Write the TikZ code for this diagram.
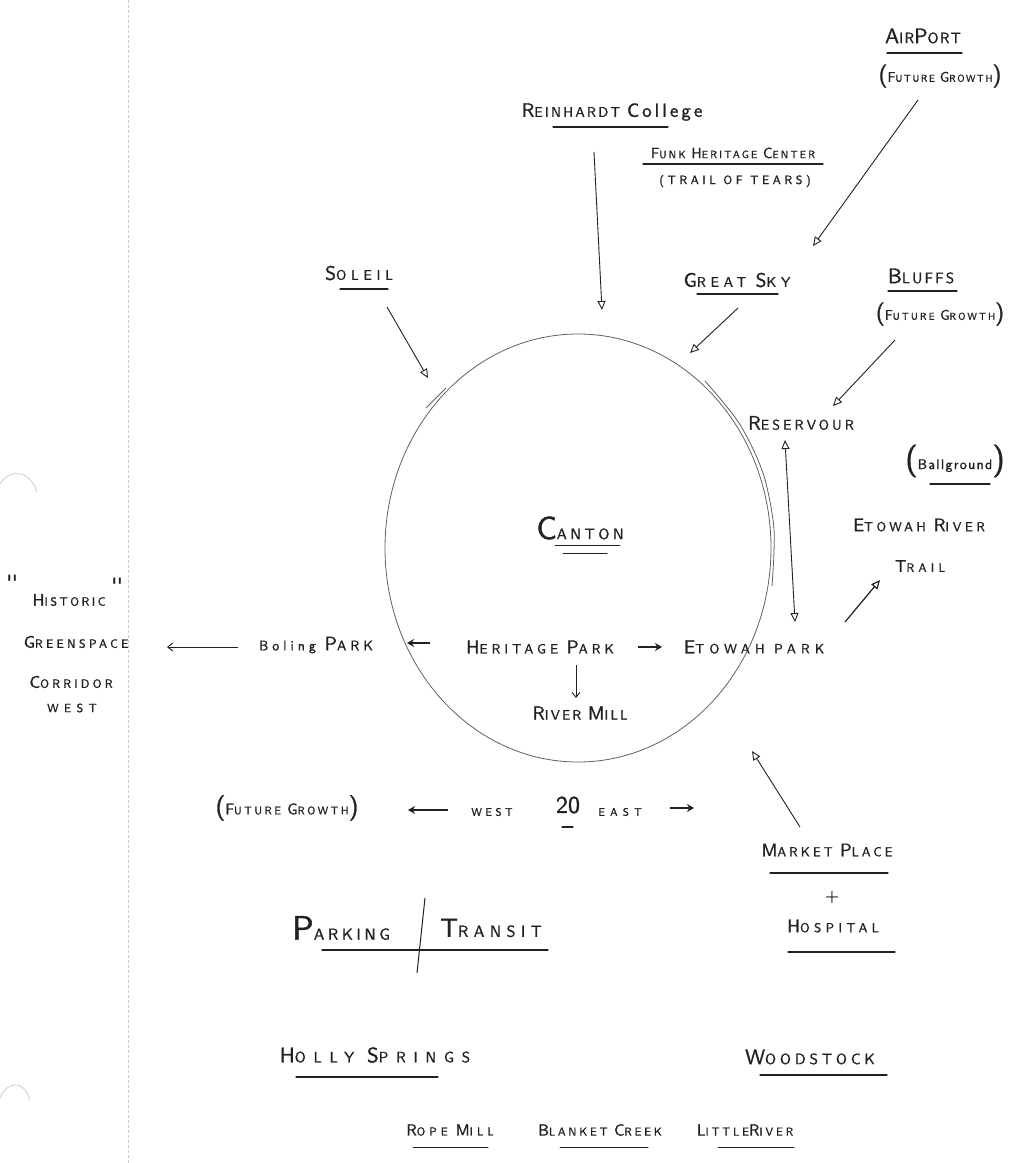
\documentclass[tikz,border=0pt]{standalone}
\usepackage{fontspec}
\usetikzlibrary{arrows.meta}
\definecolor{ink}{gray}{0.13}
\definecolor{pencil}{gray}{0.38}
\definecolor{faint}{gray}{0.80}
\newfontfamily\handfont[FakeBold=1.2]{lmsans10-regular.otf}
\newcommand\sk[2]{{\fontsize{1.4em}{1.4em}\selectfont #1}\MakeUppercase{#2}}
\newcommand\bigp[1]{{\fontsize{2.3em}{2.3em}\selectfont #1}}
\newcommand\fs[2]{{\fontsize{#1}{#1}\selectfont #2}}
\begin{document}
\begin{tikzpicture}[x=1pt,y=-1pt,
  lab/.style 2 args={inner sep=0pt, text=ink, font=\handfont\addfontfeature{LetterSpace=#2}\fontsize{#1}{#1}\selectfont},
  ul/.style={draw=ink, line width=1.3pt, line cap=round},
  oarr/.style={draw=ink, line width=0.9pt, -{Triangle[open,length=9pt,width=8pt]}},
  farr/.style={draw=ink, line width=1.8pt, -{Stealth[length=7pt,width=8pt]}},
  barr/.style={draw=ink, line width=0.9pt, -{Straight Barb[length=5pt,width=8pt]}},
  circ/.style={draw=pencil, line width=0.8pt}]
\fill[white] (0,0) rectangle (1013,1163);
\useasboundingbox (0,0) rectangle (1013,1163);

% margin line and stray arcs
\draw[faint, line width=0.7pt, dash pattern=on 3pt off 2pt] (128,0) -- (128,1163);
\draw[faint, line width=0.8pt] (0,484) .. controls (10,468) and (30,470) .. (37,492);
\draw[faint, line width=0.8pt] (0,1098) .. controls (8,1080) and (24,1080) .. (30,1100);

% Canton circle
\draw[circ] (578,548) ellipse [x radius=193, y radius=214];
\draw[circ] plot[smooth] coordinates {(705,381) (739,423) (763,473) (774,529) (772,586)};
\draw[circ] (426,408) -- (446,388);

% labels
\node[lab={15}{8}] (airport) at (923,36) {\sk{A}{ir}\sk{P}{ort}};
\draw[ul] (887,53) -- (962,53);
\node[lab={10}{16}] (fgA) at (940,76) {\bigp{(}\sk{F}{uture} \sk{G}{rowth}\bigp{)}};

\node[lab={14}{16}] (reinhardt) at (612,112) {\sk{R}{einhardt} \fs{19}{College}};
\draw[ul] (553,127) -- (668,127);

\node[lab={10.5}{21}] (funk) at (733,153) {\sk{F}{unk} \sk{H}{eritage} \sk{C}{enter}};
\draw[ul] (643,164) -- (823,164);
\node[lab={12}{30}] (tears) at (735,181) {(TRAIL OF TEARS)};

\node[lab={14}{34}] (soleil) at (359,273) {\sk{S}{oleil}};
\draw[ul] (340,289) -- (388,289);

\node[lab={14}{34}] (greatsky) at (737,280) {\sk{G}{reat} \sk{S}{ky}};
\draw[ul] (697,294) -- (778,294);

\node[lab={15}{14}] (bluffs) at (921,276) {\sk{B}{luffs}};
\draw[ul] (888,291) -- (957,291);
\node[lab={10}{22}] (fgB) at (940,314) {\bigp{(}\sk{F}{uture} \sk{G}{rowth}\bigp{)}};

\node[lab={14}{22}] (reservour) at (801,423) {\sk{R}{eservour}};

\node[lab={14}{9}] (ballground) at (955,461) {\bigp{(}Ballground\bigp{)}};
\draw[ul] (930,484) -- (990,484);

\node[lab={13}{28}] (etowahriver) at (919,525) {\sk{E}{towah} \sk{R}{iver}};
\node[lab={12}{36}] (trail) at (920,566) {\sk{T}{rail}};

\node[lab={15}{24}] (canton) at (580,528) {\fs{32}{C}ANTON};
\draw[ul, line width=1pt] (555,545) -- (620,545);
\draw[ul, line width=1pt] (563,553) -- (607,553);

\node[lab={20}{0}] (q1) at (12,582) {''};
\node[lab={20}{0}] (q2) at (117,585) {''};
\node[lab={12}{21}] (historic) at (69,600) {\sk{H}{istoric}};
\node[lab={12}{28}] (greenspace) at (76,642) {\sk{G}{reenspace}};
\node[lab={12}{27}] (corridor) at (71,682) {\sk{C}{orridor}};
\node[lab={12}{45}] (westc) at (72,708) {WEST};

\node[lab={14}{28}] (boling) at (316,645) {Boling \sk{P}{ark}};
\node[lab={13.5}{30}] (heritage) at (540,647) {\sk{H}{eritage} \sk{P}{ark}};
\node[lab={13.5}{38}] (etowahpark) at (754,647) {\sk{E}{towah} PARK};
\node[lab={13.5}{17}] (rivermill) at (580,713) {\sk{R}{iver} \sk{M}{ill}};

\node[lab={11}{24}] (fgC) at (287,808) {\bigp{(}\sk{F}{uture} \sk{G}{rowth}\bigp{)}};
\node[lab={11}{32}] (westw) at (492,812) {WEST};
\node[lab={24}{0}] (twenty) at (568,805) {20};
\draw[ul] (562,827) -- (573,827);
\node[lab={11}{48}] (east) at (620,812) {EAST};

\node[lab={13}{24}] (market) at (827,850) {\sk{M}{arket} \sk{P}{lace}};
\draw[ul] (770,873) -- (888,873);
\node[lab={18}{0}] (plus) at (832,897) {+};
\node[lab={13}{34}] (hospital) at (833,926) {\sk{H}{ospital}};
\draw[ul] (788,952) -- (895,952);

\node[lab={16}{22}] (parking) at (341,928) {\fs{34}{P}ARKING};
\node[lab={16}{34}] (transit) at (491,928) {\fs{26}{T}RANSIT};
\draw[ul] (322,950) -- (548,950);
\draw[ink, line width=1pt] (425,898) -- (417,973);

\node[lab={15}{52}] (holly) at (375,1055) {\sk{H}{olly} \sk{S}{prings}};
\draw[ul] (296,1077) -- (438,1077);
\node[lab={15}{26}] (woodstock) at (810,1057) {\sk{W}{oodstock}};
\draw[ul] (760,1075) -- (887,1075);

\node[lab={11.5}{36}] (ropemill) at (450,1130) {\sk{R}{ope} \sk{M}{ill}};
\draw[ul, line width=1pt] (413,1147) -- (488,1147);
\node[lab={11.5}{24}] (blanket) at (600,1130) {\sk{B}{lanket} \sk{C}{reek}};
\draw[ul, line width=1pt] (560,1147) -- (648,1147);
\node[lab={11.5}{25}] (little) at (745,1130) {\sk{L}{ittle}\sk{R}{iver}};
\draw[ul, line width=1pt] (718,1147) -- (794,1147);

% arrow end points
\coordinate (apS) at (918,100);   \coordinate (apE) at (813,246);
\coordinate (reS) at (594,152);   \coordinate (reE) at (602,310);
\coordinate (soS) at (387,307);   \coordinate (soE) at (428,378);
\coordinate (gsS) at (738,308);   \coordinate (gsE) at (690,353);
\coordinate (blS) at (895,340);   \coordinate (blE) at (833,406);
\coordinate (rvT) at (785,440);   \coordinate (rvB) at (795,622);
\coordinate (etS) at (845,622);   \coordinate (etE) at (880,580);
\coordinate (mkS) at (800,827);   \coordinate (mkE) at (752,751);
\coordinate (gwS) at (238,647);   \coordinate (gwE) at (167,647);
\coordinate (bpS) at (430,643);   \coordinate (bpE) at (407,643);
\coordinate (hpS) at (638,647);   \coordinate (hpE) at (662,647);
\coordinate (rmS) at (576,665);   \coordinate (rmE) at (576,698);
\coordinate (wwS) at (448,810);   \coordinate (wwE) at (408,810);
\coordinate (eeS) at (670,808);   \coordinate (eeE) at (694,808);

\draw[oarr] (apS) -- (apE);
\draw[oarr] (reS) -- (reE);
\draw[oarr] (soS) -- (soE);
\draw[oarr] (gsS) -- (gsE);
\draw[oarr] (blS) -- (blE);
\draw[draw=ink, line width=0.9pt, {Triangle[open,length=9pt,width=8pt]}-{Triangle[open,length=9pt,width=8pt]}] (rvT) -- (rvB);
\draw[oarr, line width=1.2pt] (etS) -- (etE);
\draw[oarr] (mkS) -- (mkE);
\draw[barr] (gwS) -- (gwE);
\draw[farr] (bpS) -- (bpE);
\draw[farr] (hpS) -- (hpE);
\draw[barr] (rmS) -- (rmE);
\draw[farr, line width=2.4pt] (wwS) -- (wwE);
\draw[farr] (eeS) -- (eeE);
\end{tikzpicture}
\end{document}
